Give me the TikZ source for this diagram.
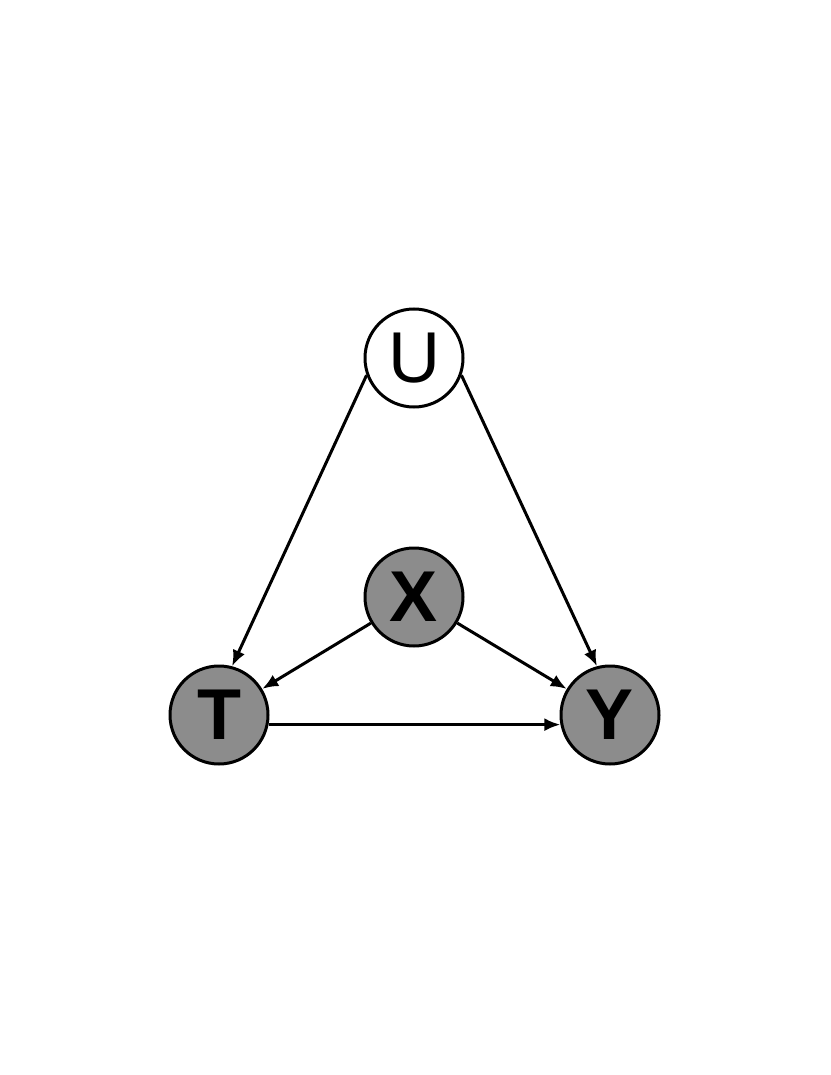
\documentclass[tikz,border=0pt]{standalone}
\usepackage{fontspec}
\setmainfont{Liberation Sans}
\usetikzlibrary{arrows.meta}
\begin{document}
\begin{tikzpicture}[x=1pt,y=-1pt,
  var/.style={circle,draw=black,line width=3pt,minimum size=98pt,inner sep=0pt,font=\fontsize{72}{76}\selectfont},
  obs/.style={var,fill=black!45},
  edge/.style={line width=3pt,-{Latex[length=16pt,width=13pt]}}]
\useasboundingbox (0,0) rectangle (830,1075);
\node[var,fill=white] (U) at (414,358) {U};
\node[obs] (X) at (414,597) {\textbf{X}};
\node[obs] (T) at (219,715) {\textbf{T}};
\node[obs] (Y) at (610,715) {\textbf{Y}};
\draw[edge] (U.200) -- (T.75);
\draw[edge] (U.-20) -- (Y.105);
\draw[edge] (X) -- (T);
\draw[edge] (X) -- (Y);
\draw[edge] (T.-11) -- (Y.191);
\end{tikzpicture}
\end{document}
